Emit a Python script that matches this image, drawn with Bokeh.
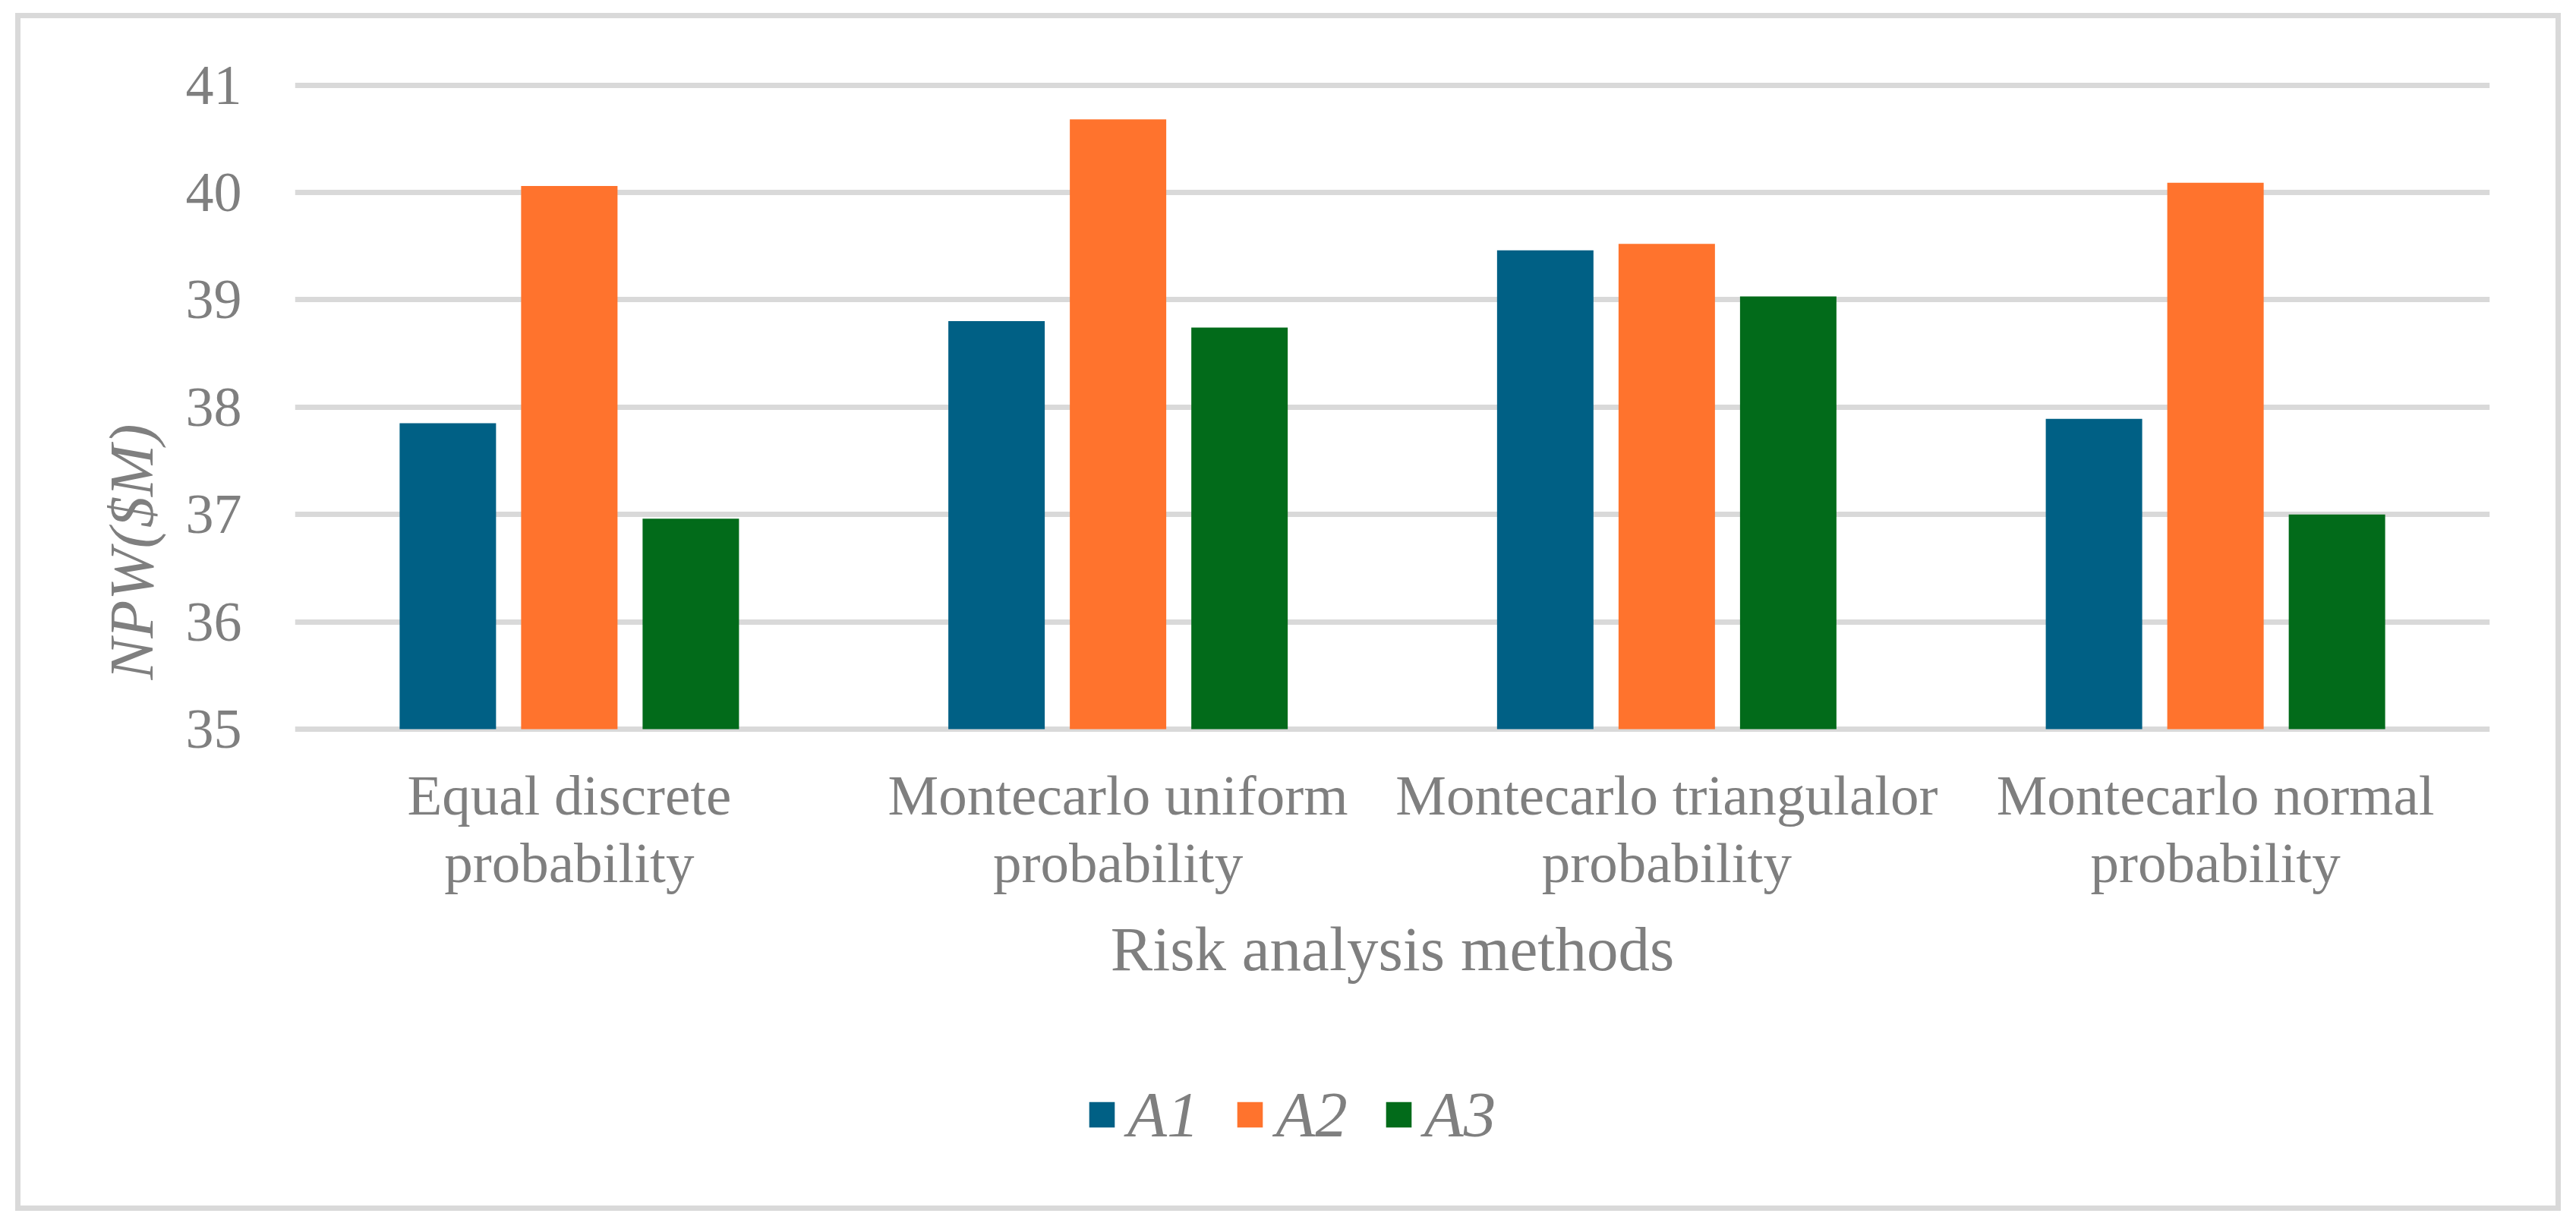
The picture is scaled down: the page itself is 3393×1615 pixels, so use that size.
from bokeh.plotting import figure
from bokeh.models import (ColumnDataSource, FactorRange, Range1d, FixedTicker,
                          Legend, LegendItem, Title, InlineStyleSheet)
from bokeh.transform import dodge
from bokeh.embed import file_html
from bokeh.resources import INLINE

# ---- data ----
categories = ["Equal discrete\nprobability",
              "Montecarlo uniform\nprobability",
              "Montecarlo triangulalor\nprobability",
              "Montecarlo normal\nprobability"]
series_names = ["A1", "A2", "A3"]
a1 = [37.85, 38.80, 39.46, 37.89]
a2 = [40.06, 40.68, 39.52, 40.09]
a3 = [36.96, 38.74, 39.03, 37.00]
y_ticks = [35, 36, 37, 38, 39, 40, 41]
y_min, y_max = 35, 41
x_title = "Risk analysis methods"
y_title = "NPW($M)"

colors = ["#006085", "#FF732D", "#026B1A"]
FONT = "Liberation Serif"
GRAY = "#7f7f7f"
GRID = "#d9d9d9"

src = ColumnDataSource(data=dict(cat=categories, A1=a1, A2=a2, A3=a3))

# layout (pixels)
W, H = 3390, 1612
TOP = 107            # frame top
Y41, Y35 = 111.5, 960.0
BOTTOM = 1602        # frame bottom (frame extends below the value axis)
unit = (Y35 - Y41) / (y_max - y_min)
y_start = y_min - (BOTTOM - Y35) / unit
y_end = y_max + (Y41 - TOP) / unit

p = figure(width=W, height=H,
           x_range=FactorRange(factors=categories, range_padding=0),
           y_range=Range1d(y_start, y_end),
           output_backend="svg", toolbar_location=None,
           min_border_left=388, min_border_right=W - 3279,
           min_border_top=TOP, min_border_bottom=H - BOTTOM)
p.outline_line_color = None
p.background_fill_color = "white"
p.border_fill_color = "white"
p.stylesheets = [InlineStyleSheet(css=(
    ":host { position: relative; }"
    ":host::after { content: ''; position: absolute; left: 20px; top: 17px;"
    " right: 17px; bottom: 17px; border: 7px solid " + GRID + ";"
    " pointer-events: none; z-index: 100; }"))]

offsets = [-0.2214, 0.0, 0.2214]
renderers = []
for name, off, col in zip(series_names, offsets, colors):
    r = p.vbar(x=dodge("cat", off, range=p.x_range), top=name, bottom=y_min,
               width=0.1757, source=src, fill_color=col, line_color=None)
    renderers.append(r)

# y axis
p.yaxis.ticker = FixedTicker(ticks=y_ticks)
p.yaxis.major_label_text_font = FONT
p.yaxis.major_label_text_font_size = "74px"
p.yaxis.major_label_text_color = GRAY
p.yaxis.axis_line_color = None
p.yaxis.major_tick_line_color = None
p.yaxis.minor_tick_line_color = None
p.yaxis.major_tick_out = 0
p.yaxis.major_tick_in = 0
p.yaxis.major_label_standoff = 70

# x axis, pinned to the value-axis baseline
p.xaxis.fixed_location = y_min
p.xaxis.major_label_text_font = FONT
p.xaxis.major_label_text_font_size = "75px"
p.xaxis.major_label_text_color = GRAY
p.xaxis.major_label_text_line_height = 1.08
p.xaxis.axis_line_color = None
p.xaxis.major_tick_line_color = None
p.xaxis.major_tick_out = 0
p.xaxis.major_tick_in = 0
p.xaxis.major_label_standoff = 45
p.xaxis.axis_label = x_title
p.xaxis.axis_label_text_font = FONT
p.xaxis.axis_label_text_font_style = "normal"
p.xaxis.axis_label_text_font_size = "83px"
p.xaxis.axis_label_text_color = GRAY
p.xaxis.axis_label_standoff = 23

p.xgrid.grid_line_color = None
p.ygrid.grid_line_color = GRID
p.ygrid.grid_line_width = 7

# y title (sits lower than centre, as in the reference)
ytitle = Title(text=y_title, align="left", offset=int(BOTTOM - 895),
               standoff=45, text_font=FONT, text_font_style="italic",
               text_font_size="82px", text_color=GRAY)
p.add_layout(ytitle, "left")

legend = Legend(items=[LegendItem(label=n, renderers=[r])
                       for n, r in zip(series_names, renderers)],
                orientation="horizontal", location=(1434 - 388 - 4, BOTTOM - 1517),
                glyph_width=42, glyph_height=42,
                label_text_font=FONT, label_text_font_style="italic",
                label_text_font_size="85px", label_text_color=GRAY,
                border_line_color=None, background_fill_alpha=0,
                padding=0, margin=0, spacing=46, label_standoff=13)
p.add_layout(legend)

open("out.html", "w").write(file_html(p, INLINE))
